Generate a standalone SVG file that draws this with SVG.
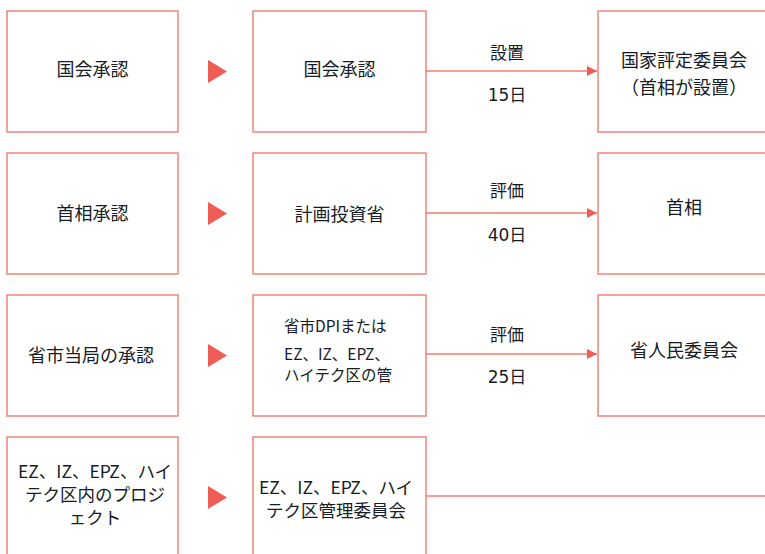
<svg xmlns="http://www.w3.org/2000/svg" width="765" height="554" viewBox="0 0 765 554">
<defs>
<style>
.box{fill:#ffffff;stroke:#f27b73;stroke-width:1.4}
.tri{fill:#ef5b55}
.con{fill:none;stroke:#f27b73;stroke-width:1.4}
.t{font-family:"Noto Sans CJK JP","Noto Sans",sans-serif;font-size:18px;font-weight:400;fill:#161b26;text-anchor:middle}
.s{font-size:15.5px;text-anchor:start}
.m{font-size:17.5px}
.lbl{font-family:"DejaVu Sans","Noto Sans CJK JP",sans-serif;font-size:17px;fill:#161b26;text-anchor:middle}
</style>
<marker id="ah" markerUnits="userSpaceOnUse" markerWidth="12" markerHeight="12" viewBox="0 0 12 12" refX="11" refY="6" orient="auto">
<path d="M1,1 L11,6 L1,11 Z" fill="#ef5b55"/>
</marker>
</defs>
<rect width="765" height="554" fill="#ffffff"/>

<g id="connectors">
<line class="con" x1="426" y1="71" x2="597" y2="71" marker-end="url(#ah)"/>
<line class="con" x1="426" y1="213" x2="597" y2="213" marker-end="url(#ah)"/>
<line class="con" x1="426" y1="354" x2="597" y2="354" marker-end="url(#ah)"/>
<line class="con" x1="426" y1="496" x2="770" y2="496"/>
<text class="lbl" x="507" y="59">設置</text>
<text class="lbl" x="507" y="101">15日</text>
<text class="lbl" x="507" y="197">評価</text>
<text class="lbl" x="507" y="241">40日</text>
<text class="lbl" x="507" y="341">評価</text>
<text class="lbl" x="507" y="383">25日</text>
</g>

<g id="tri1"><polygon class="tri" points="208,60 227,71.5 208,83"/></g>
<g id="tri2"><polygon class="tri" points="208,202 227,213.5 208,225"/></g>
<g id="tri3"><polygon class="tri" points="208,344 227,355.5 208,367"/></g>
<g id="tri4"><polygon class="tri" points="208,486 227,497.5 208,509"/></g>

<g id="n1a"><rect class="box" x="7" y="11" width="171" height="121"/><text class="t" x="92.5" y="75.5">国会承認</text></g>
<g id="n1b"><rect class="box" x="253" y="11" width="173" height="121"/><text class="t" x="339.5" y="76">国会承認</text></g>
<g id="n1c"><rect class="box" x="598" y="11" width="174" height="121"/><text class="t" x="684" y="67">国家評定委員会</text><text class="t" x="684" y="93.5">（首相が設置）</text></g>

<g id="n2a"><rect class="box" x="7" y="153" width="171" height="121"/><text class="t" x="92.5" y="220">首相承認</text></g>
<g id="n2b"><rect class="box" x="253" y="153" width="173" height="121"/><text class="t" x="339.5" y="221">計画投資省</text></g>
<g id="n2c"><rect class="box" x="598" y="153" width="174" height="121"/><text class="t" x="684" y="214">首相</text></g>

<g id="n3a"><rect class="box" x="7" y="295" width="171" height="121"/><text class="t" x="91" y="362">省市当局の承認</text></g>
<g id="n3b"><rect class="box" x="253" y="295" width="173" height="121"/><text class="t s" x="284" y="332">省市DPIまたは</text><text class="t s" x="284" y="359.5">EZ、IZ、EPZ、</text><text class="t s" x="284" y="380.5">ハイテク区の管</text></g>
<g id="n3c"><rect class="box" x="598" y="295" width="174" height="121"/><text class="t" x="684" y="357">省人民委員会</text></g>

<g id="n4a"><rect class="box" x="7" y="437" width="171" height="125"/><text class="t m" x="95" y="478">EZ、IZ、EPZ、ハイ</text><text class="t m" x="95" y="501">テク区内のプロジ</text><text class="t m" x="95" y="524">ェクト</text></g>
<g id="n4b"><rect class="box" x="253" y="437" width="173" height="125"/><text class="t m" x="336" y="494">EZ、IZ、EPZ、ハイ</text><text class="t m" x="336" y="517">テク区管理委員会</text></g>
</svg>
